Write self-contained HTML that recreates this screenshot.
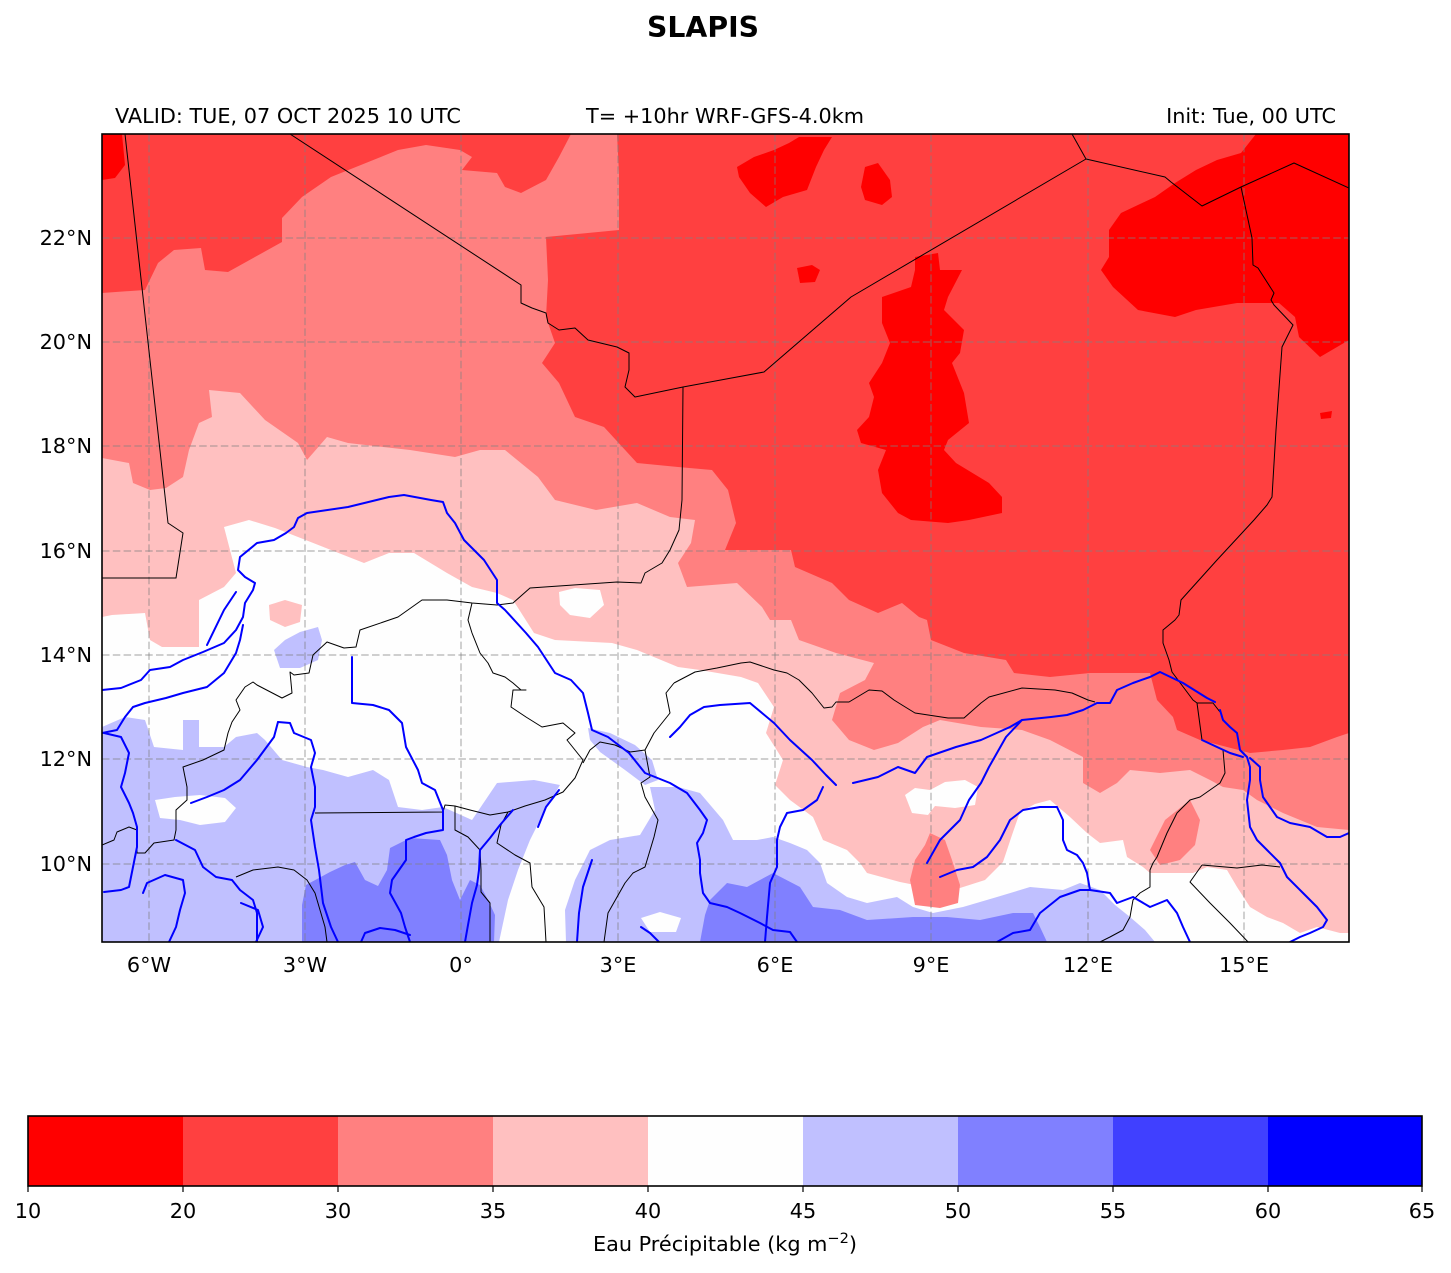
<!DOCTYPE html>
<html><head><meta charset="utf-8"><style>
html,body{margin:0;padding:0;background:#fff;}
svg{display:block;}
text{font-family:"DejaVu Sans","Liberation Sans",sans-serif;fill:#000;}
</style></head><body>
<svg width="1451" height="1273" viewBox="0 0 1451 1273" xmlns="http://www.w3.org/2000/svg">
<defs><clipPath id="mc"><rect x="102" y="134" width="1247" height="808"/></clipPath></defs>
<text x="703" y="37" font-size="28.3" font-weight="bold" text-anchor="middle">SLAPIS</text>
<text x="115" y="123" font-size="20.8">VALID: TUE, 07 OCT 2025 10 UTC</text>
<text x="725" y="123" font-size="20.8" text-anchor="middle">T= +10hr WRF-GFS-4.0km</text>
<text x="1336" y="123" font-size="20.8" text-anchor="end">Init: Tue, 00 UTC</text>
<g clip-path="url(#mc)">
<rect x="102" y="134" width="1247" height="808" fill="#ff4040"/>
<g fill="#ff0000">
<polygon points="102,134 122,134 125,165 115,178 102,180"/>
<polygon points="737,167 754,157 774,150 789,143 799,137 832,137 824,150 816,167 807,190 783,197 766,207 750,193 739,177"/>
<polygon points="865,167 878,163 890,180 892,197 882,205 865,200 861,187"/>
<polygon points="797,268 812,265 820,270 815,282 800,283"/>
<polygon points="915,257 938,253 940,270 962,270 948,297 944,310 964,330 960,353 952,363 964,393 969,423 948,440 944,450 956,463 989,483 1002,497 1002,513 969,520 948,523 911,520 898,513 882,493 878,470 886,450 861,443 857,430 869,417 874,397 869,383 882,363 890,343 882,323 882,297 911,287 915,270"/>
<polygon points="1256,134 1349,134 1349,340 1320,357 1299,337 1295,317 1279,303 1237,303 1196,310 1175,317 1138,310 1113,287 1101,270 1109,257 1109,230 1121,213 1155,197 1175,183 1196,170 1217,160 1241,153"/>
<polygon points="1320,413 1332,411 1331,418 1321,419"/>
</g>
<polygon fill="#ff8080" points="102,293 145,290 158,263 174,250 201,248 205,270 228,272 282,242 282,218 302,197 331,177 398,150 426,145 460,150 472,157 462,170 497,173 505,187 521,193 546,180 559,157 571,134 617,134 619,173 619,230 546,237 548,280 546,317 555,343 542,363 559,383 575,417 604,427 637,463 678,467 712,470 728,490 736,523 725,550 791,550 795,567 832,583 849,600 878,613 902,603 919,617 927,620 931,640 964,653 1006,660 1014,673 1050,677 1090,673 1150,673 1157,700 1173,717 1177,730 1200,740 1227,747 1250,753 1283,750 1310,747 1337,737 1349,733 1349,942 102,942"/>
<polygon fill="#ffc0c0" points="102,458 129,463 133,483 150,490 166,488 183,477 189,450 199,423 212,417 209,390 240,393 265,420 298,443 307,460 327,437 348,443 410,450 455,457 480,450 505,450 538,477 555,500 596,510 637,503 670,517 695,520 691,543 678,563 687,587 737,583 762,607 770,620 791,620 799,640 836,653 874,663 865,680 840,693 832,720 849,740 874,750 898,743 923,727 940,720 981,727 1022,730 1050,740 1083,757 1083,783 1100,793 1117,783 1130,770 1160,773 1190,770 1210,780 1223,787 1243,790 1257,800 1283,813 1317,827 1349,830 1349,942 102,942"/>
<g fill="#ff8080">
<polygon points="1190,800 1200,820 1195,845 1180,860 1160,865 1150,850 1165,820"/>
</g>
<g fill="#fefefe">
<polygon points="102,617 112,615 145,613 150,640 162,647 199,647 199,600 224,587 236,573 224,527 249,520 275,528 298,537 331,550 364,563 389,553 414,553 447,573 472,587 497,593 513,600 534,633 555,640 612,643 637,650 678,667 700,670 741,677 758,683 774,707 766,733 783,760 775,785 790,800 813,817 823,840 847,850 860,863 867,873 900,882 930,888 960,888 985,880 1003,862 1012,835 1020,812 1035,804 1050,800 1070,817 1087,833 1100,843 1123,840 1127,857 1143,867 1150,873 1193,873 1207,867 1227,870 1237,887 1250,907 1267,917 1283,923 1300,933 1317,927 1340,933 1349,933 1349,942 102,942"/>
<polygon points="905,795 915,788 930,790 945,782 965,780 978,787 975,805 955,808 935,806 928,815 912,813"/>
<polygon points="559,592 575,588 600,590 604,605 590,618 570,615 560,605"/>
</g>
<polygon fill="#ffc0c0" points="269,605 285,600 302,605 300,622 285,627 270,620"/>
<polygon fill="#ff8080" points="930,833 945,840 952,860 960,885 958,903 940,908 915,905 910,880 915,860 925,845"/>
<g fill="#c0c0ff">
<polygon points="102,727 125,717 145,720 154,747 183,750 183,720 199,720 199,747 224,747 236,737 257,733 265,740 282,760 307,767 323,770 348,777 373,770 389,780 398,807 422,810 443,807 472,820 497,783 534,780 560,785 545,810 530,840 518,870 508,900 499,942 102,942"/>
<polygon points="566,942 565,910 575,880 590,850 610,840 640,835 655,810 650,787 678,787 700,793 723,820 733,840 757,840 773,837 790,843 807,850 820,863 827,883 847,897 867,903 897,897 913,907 933,913 963,907 997,897 1030,887 1063,890 1080,883 1100,890 1115,905 1130,917 1145,930 1155,942"/>
<polygon points="274,650 285,640 300,632 318,627 322,640 318,660 300,668 280,668"/>
<polygon points="588,728 610,733 635,745 652,760 658,780 645,785 625,770 600,752 590,740"/>
</g>
<g fill="#fefefe">
<polygon points="155,800 175,797 200,795 225,798 236,808 225,822 200,825 180,820 160,818"/>
<polygon points="641,918 660,912 681,918 676,932 650,932"/>
</g>
<g fill="#8080ff">
<polygon points="302,942 302,905 306,885 330,872 345,865 355,862 365,880 378,886 387,870 390,848 410,838 440,840 447,855 452,880 460,900 470,880 480,885 488,900 495,915 494,942"/>
<polygon points="700,942 705,915 710,900 727,883 747,887 773,873 800,887 813,907 840,910 867,920 913,917 947,917 980,920 1013,913 1033,913 1040,927 1047,942"/>
</g>
<g stroke="#808080" stroke-opacity="0.6" stroke-width="1.2" stroke-dasharray="7.5 3.3" fill="none">
<line x1="149" y1="134" x2="149" y2="942"/><line x1="305" y1="134" x2="305" y2="942"/>
<line x1="461" y1="134" x2="461" y2="942"/><line x1="618" y1="134" x2="618" y2="942"/>
<line x1="775" y1="134" x2="775" y2="942"/><line x1="931" y1="134" x2="931" y2="942"/>
<line x1="1088" y1="134" x2="1088" y2="942"/><line x1="1244" y1="134" x2="1244" y2="942"/>
<line x1="102" y1="238" x2="1349" y2="238"/><line x1="102" y1="342" x2="1349" y2="342"/>
<line x1="102" y1="446" x2="1349" y2="446"/><line x1="102" y1="551" x2="1349" y2="551"/>
<line x1="102" y1="655" x2="1349" y2="655"/><line x1="102" y1="759" x2="1349" y2="759"/>
<line x1="102" y1="864" x2="1349" y2="864"/>
</g>
<g stroke="#000" stroke-width="1" fill="none" stroke-linejoin="round">
<polyline points="125,134 168,523 183,533 176,578 102,578"/>
<polyline points="290,134 521,285 521,303 532,308 546,313 548,323 559,330 575,328 588,340 617,347 629,353 629,370 625,387 635,397 683,387 764,372 851,297 1086,159"/>
<polyline points="1072,134 1086,159 1165,177 1171,182 1202,206 1241,187 1294,163 1349,188"/>
<polyline points="1241,187 1252,238 1253,265 1258,268 1274,293 1271,300 1274,305 1293,325 1282,347 1276,430 1272,497 1267,505 1254,520 1217,560 1181,600 1179,615 1175,620 1163,630 1163,643 1169,660 1172,672 1193,700 1197,703"/>
<polyline points="683,387 682,500 679,530 670,550 662,563 645,573 641,583 617,582 530,588 513,603 497,605 472,603 447,600 422,600 398,617 360,630 356,647 344,648 327,642 313,655 309,673 294,675 290,672 292,693 282,698 257,685 253,682 245,687 236,700 240,710 232,722 228,733 224,750 203,760 183,767 187,787 187,800 176,810 176,830 174,840 154,843 145,853 137,853 137,830 129,827 117,832 114,840 102,845"/>
<polyline points="472,603 468,620 472,633 480,653 488,663 493,673 505,677 513,683 521,690 526,690 513,690 511,707 526,717 542,727 563,723 575,733 567,740 583,760 575,778 563,792 545,800 525,806 508,812 490,815 470,810 455,806 445,805 443,812 315,813"/>
<polyline points="583,763 590,750 600,742 615,745 630,752 645,750 654,733 670,713 666,693 674,683"/>
<polyline points="508,812 501,825 497,843 515,855 530,863 532,887 544,907 546,942"/>
<polyline points="455,806 455,830 468,837 480,850 481,870 481,892 490,903 490,942"/>
<polyline points="236,877 253,870 278,867 294,870 307,880 315,893 320,910 325,927 327,942"/>
<polyline points="674,683 695,672 717,668 741,663 750,662 774,670 787,673 799,680 812,693 824,708 832,707 836,702 849,702 869,690 882,691 894,700 902,705 915,713 948,718 964,718 981,703 989,697 1022,688 1055,690 1072,693 1088,700 1095,702"/>
<polyline points="645,750 650,777 641,783 645,797 658,820 654,837 645,867 633,873 625,883 608,913 604,942"/>
<polyline points="1197,703 1213,703 1220,712"/>
<polyline points="1197,703 1202,740 1223,750 1225,773 1220,783 1200,797 1190,800 1183,807 1177,813 1167,833 1157,857 1153,863 1150,870 1150,887 1140,893 1133,900 1130,917 1123,930 1110,937 1100,942"/>
<polyline points="1202,865 1237,868 1262,865 1280,867"/>
<polyline points="1202,865 1190,882 1210,903 1230,923 1250,944"/>
</g>
<g stroke="#0000ff" stroke-width="2" fill="none" stroke-linejoin="round" stroke-linecap="round">
<polyline points="102,690 121,688 141,680 150,670 170,667 183,660 203,652 224,643 236,630 243,617 245,603 253,590 255,583 245,577 238,570 240,557 257,543 274,540 286,533 294,527 298,518 307,513 348,507 389,497 404,495 431,500 443,502 447,513 455,523 464,540 484,560 497,580 497,603 505,610 526,633 538,647 555,673 571,680 583,693 588,713 592,730 608,737 629,753 645,773 670,783 687,793 700,810 707,820 703,833 697,843 700,860 700,873 703,893 710,903 727,907 740,913 760,923 773,930 790,932 797,942"/>
<polyline points="102,733 117,730 125,717 133,707 145,703 166,698 183,693 207,687 224,673 236,653 240,640 243,625"/>
<polyline points="236,592 224,610 207,645"/>
<polyline points="278,722 290,723 294,733 311,740 315,753 311,767 315,787 315,807 311,820 315,847 319,870 323,903 331,927 338,942"/>
<polyline points="278,722 274,737 257,760 240,780 224,790 207,797 191,803"/>
<polyline points="352,657 352,687 352,703 373,705 389,710 402,723 406,747 418,770 422,783 435,790 439,800 443,810 443,830 426,833 414,837 406,840 406,860 392,880 390,893 401,913 405,927 410,942"/>
<polyline points="361,942 365,933 380,928 395,930 410,935"/>
<polyline points="513,810 500,825 490,838 480,850 479,870 477,885 472,903 468,925 465,942"/>
<polyline points="559,790 546,807 538,827"/>
<polyline points="592,860 583,887 579,913 577,942"/>
<polyline points="641,927 650,933 659,942"/>
<polyline points="670,737 680,727 690,715 704,707 720,705 750,703 774,723 790,740 812,760 826,775 836,785"/>
<polyline points="823,787 817,800 803,810 787,813 780,827 777,840 777,867 770,883 767,917 765,942"/>
<polyline points="853,783 878,777 898,767 915,773 927,757 956,747 981,740 1010,727 1022,720 1051,717 1067,715 1083,710 1097,703 1110,703 1117,690 1133,683 1150,677 1160,672 1183,683 1207,698 1215,702"/>
<polyline points="1022,720 1006,737 989,767 981,783 969,800 960,820 940,840 927,863"/>
<polyline points="940,877 957,870 973,867 987,857 1000,840 1010,820 1023,810 1040,807 1057,807 1063,820 1063,840 1067,850 1077,855 1083,863 1087,873 1090,890"/>
<polyline points="997,942 1013,933 1030,930 1040,913 1060,897 1080,890 1090,890 1110,893 1117,903 1133,897 1150,907 1167,900 1177,913 1183,927 1190,942"/>
<polyline points="1202,740 1217,747 1230,753 1243,757"/>
<polyline points="1220,710 1223,720 1230,727 1237,733 1240,750 1247,757 1250,767 1250,780 1247,800 1250,827 1257,840 1267,850 1280,863 1287,877 1303,893 1317,907 1327,920 1323,927 1310,933 1300,937 1290,942"/>
<polyline points="1250,758 1260,767 1260,780 1263,797 1270,807 1277,817 1290,823 1310,827 1327,837 1340,837 1349,833"/>
<polyline points="104,733 121,737 129,753 125,773 121,787 129,803 133,813 137,827 137,847 133,867 129,887 121,890 104,892"/>
<polyline points="176,840 195,850 203,867 216,877 232,880 240,890 253,900 257,913 257,942"/>
<polyline points="143,893 147,883 165,875 183,880 185,893 180,910 176,927 169,942"/>
<polyline points="241,903 258,910 263,927 256,942"/>
</g>
</g>
<rect x="102" y="134" width="1247" height="808" fill="none" stroke="#000" stroke-width="1.6"/>
<g font-size="20.8" text-anchor="end">
<text x="92" y="245">22°N</text><text x="92" y="349">20°N</text><text x="92" y="453">18°N</text>
<text x="92" y="558">16°N</text><text x="92" y="662">14°N</text><text x="92" y="766">12°N</text>
<text x="92" y="871">10°N</text>
</g>
<g font-size="20.8" text-anchor="middle">
<text x="149" y="972">6°W</text><text x="305" y="972">3°W</text><text x="461" y="972">0°</text>
<text x="618" y="972">3°E</text><text x="775" y="972">6°E</text><text x="931" y="972">9°E</text>
<text x="1088" y="972">12°E</text><text x="1244" y="972">15°E</text>
</g>
<g>
<rect x="28" y="1116" width="155" height="70" fill="#ff0000"/>
<rect x="183" y="1116" width="155" height="70" fill="#ff4040"/>
<rect x="338" y="1116" width="155" height="70" fill="#ff8080"/>
<rect x="493" y="1116" width="155" height="70" fill="#ffc0c0"/>
<rect x="648" y="1116" width="155" height="70" fill="#fefefe"/>
<rect x="803" y="1116" width="155" height="70" fill="#c0c0ff"/>
<rect x="958" y="1116" width="155" height="70" fill="#8080ff"/>
<rect x="1113" y="1116" width="155" height="70" fill="#4040ff"/>
<rect x="1268" y="1116" width="154" height="70" fill="#0000ff"/>
<rect x="28" y="1116" width="1394" height="70" fill="none" stroke="#000" stroke-width="1.6"/>
<g stroke="#000" stroke-width="1.2">
<line x1="28" y1="1186" x2="28" y2="1192"/><line x1="183" y1="1186" x2="183" y2="1192"/>
<line x1="338" y1="1186" x2="338" y2="1192"/><line x1="493" y1="1186" x2="493" y2="1192"/>
<line x1="648" y1="1186" x2="648" y2="1192"/><line x1="803" y1="1186" x2="803" y2="1192"/>
<line x1="958" y1="1186" x2="958" y2="1192"/><line x1="1113" y1="1186" x2="1113" y2="1192"/>
<line x1="1268" y1="1186" x2="1268" y2="1192"/><line x1="1422" y1="1186" x2="1422" y2="1192"/>
</g>
<g font-size="20.8" text-anchor="middle">
<text x="28" y="1218">10</text><text x="183" y="1218">20</text><text x="338" y="1218">30</text>
<text x="493" y="1218">35</text><text x="648" y="1218">40</text><text x="803" y="1218">45</text>
<text x="958" y="1218">50</text><text x="1113" y="1218">55</text><text x="1268" y="1218">60</text>
<text x="1422" y="1218">65</text>
</g>
<text x="725" y="1251" font-size="20.8" text-anchor="middle">Eau Précipitable (kg m<tspan font-size="14.6" dy="-8">−2</tspan><tspan dy="8">)</tspan></text>
</g>
</svg>
</body></html>
